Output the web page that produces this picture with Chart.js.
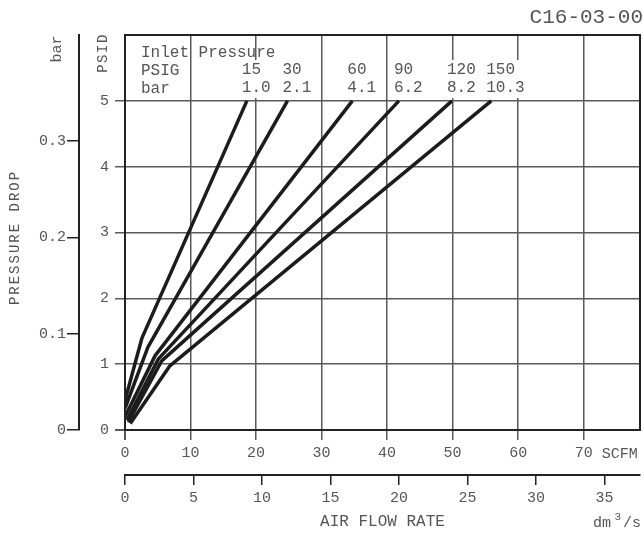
<!DOCTYPE html>
<html>
<head>
<meta charset="utf-8">
<script src="https://cdn.jsdelivr.net/npm/chart.js@4/dist/chart.umd.min.js"></script>
<style>
  html, body { margin: 0; padding: 0; background: #fff; }
  canvas { display: block; }
</style>
</head>
<body>
<canvas id="c" width="644" height="533"></canvas>
<script>
// Pressure drop vs. air flow rate, one curve per inlet pressure (C16-03-00).

const inletPsig = ['15', '30', '60', '90', '120', '150'];
const inletBar = ['1.0', '2.1', '4.1', '6.2', '8.2', '10.3'];

// points: start, knee, end  (SCFM / PSID)
const flow15 = [0, 2.6, 18.6];    const drop15 = [0.45, 1.40, 5];
const flow30 = [0, 3.5, 24.8];    const drop30 = [0.33, 1.26, 5];
const flow60 = [0, 4.6, 34.7];    const drop60 = [0.20, 1.13, 5];
const flow90 = [0.3, 5.1, 41.8];  const drop90 = [0.15, 1.08, 5];
const flow120 = [0.5, 5.6, 49.9]; const drop120 = [0.12, 1.05, 5];
const flow150 = [0.8, 6.8, 55.9]; const drop150 = [0.10, 0.97, 5];

const scfmTicks = [0, 10, 20, 30, 40, 50, 60, 70];
const dm3Ticks = [0, 5, 10, 15, 20, 25, 30, 35];
const psidTicks = [0, 1, 2, 3, 4, 5];
const barTicks = [0, 0.1, 0.2, 0.3];

const scfmMax = 78.6, dm3Max = 37.6, psidMax = 6, barMax = 0.41;

const series = [
  { flow: flow15, drop: drop15 },
  { flow: flow30, drop: drop30 },
  { flow: flow60, drop: drop60 },
  { flow: flow90, drop: drop90 },
  { flow: flow120, drop: drop120 },
  { flow: flow150, drop: drop150 },
];

const MONO = "'Liberation Mono', 'Courier New', monospace";
const INK = '#555';
const GRID = '#5a5a5a';
const FRAME = '#222';
const LINE = '#1c1c1c';

const tickFont = { family: MONO, size: 15 };
const asTicks = arr => s => { s.ticks = arr.map(v => ({ value: v })); };
const zeroThick = c => (c.tick && c.tick.value === 0 ? 2 : 1.5);

// frame, legend block and the loose captions
const annotate = {
  id: 'annotate',
  afterDraw(chart) {
    const { ctx, chartArea: a, scales } = chart;
    ctx.save();
    ctx.strokeStyle = FRAME;
    ctx.lineWidth = 2;
    ctx.strokeRect(a.left, a.top, a.right - a.left, a.bottom - a.top);

    ctx.textBaseline = 'middle';
    ctx.textAlign = 'left';
    ctx.font = `16px ${MONO}`;
    ctx.fillStyle = INK;
    ctx.fillText('Inlet Pressure', a.left + 16, a.top + 18);
    ctx.fillText('PSIG', a.left + 16, a.top + 36);
    ctx.fillText('bar', a.left + 16, a.top + 54);

    series.forEach((s, i) => {
      const x = scales.x.getPixelForValue(s.flow[s.flow.length - 1]) - 5;
      const w = Math.max(ctx.measureText(inletPsig[i]).width, ctx.measureText(inletBar[i]).width);
      ctx.fillStyle = '#fff';
      ctx.fillRect(x - 2, a.top + 25, w + 4, 38);
      ctx.fillStyle = INK;
      ctx.fillText(inletPsig[i], x, a.top + 35);
      ctx.fillText(inletBar[i], x, a.top + 53);
    });

    ctx.font = `15px ${MONO}`;
    ctx.fillText('SCFM', scales.x.getPixelForValue(70) + 18, a.bottom + 24);

    // dm³/s unit at the end of the lower axis
    const yr = scales.x2.bottom - 10;
    ctx.textAlign = 'right';
    ctx.fillText('/s', a.right + 1, yr);
    ctx.font = `11px ${MONO}`;
    ctx.fillText('3', a.right - 19, yr - 6);
    ctx.font = `15px ${MONO}`;
    ctx.fillText('dm', a.right - 29, yr);

    ctx.font = `21px ${MONO}`;
    ctx.fillText('C16-03-00', 643, 17);

    const vtext = (txt, x, y, size, spacing) => {
      ctx.save();
      ctx.translate(x, y);
      ctx.rotate(-Math.PI / 2);
      ctx.font = `${size}px ${MONO}`;
      ctx.letterSpacing = spacing;
      ctx.textAlign = 'center';
      ctx.fillText(txt, 0, 0);
      ctx.restore();
    };
    vtext('PRESSURE DROP', 15, (a.top + a.bottom) / 2 + 5, 14, '2px');
    vtext('PSID', scales.y.left + 24, a.top + 18, 14, '1.5px');
    vtext('bar', scales.y2.right - 22, a.top + 14, 15, '0px');
    ctx.restore();
  },
};

new Chart(document.getElementById('c'), {
  type: 'line',
  data: {
    datasets: series.map((s, i) => ({
      label: inletPsig[i] + ' PSIG',
      data: s.flow.map((f, k) => ({ x: f, y: s.drop[k] })),
      borderColor: LINE,
      borderWidth: 3.5,
      borderJoinStyle: 'round',
      pointRadius: 0,
      tension: 0,
      xAxisID: 'x',
      yAxisID: 'y',
    })),
  },
  options: {
    responsive: false,
    animation: false,
    devicePixelRatio: 1,
    layout: { padding: { top: 35, right: 4, left: 0, bottom: 0 } },
    plugins: { legend: { display: false }, tooltip: { enabled: false } },
    scales: {
      x: {
        type: 'linear', position: 'bottom', weight: 0, bounds: 'data',
        min: 0, max: scfmMax,
        afterBuildTicks: asTicks(scfmTicks),
        afterFit: s => { s.height = 45; },
        grid: { color: GRID, lineWidth: zeroThick, tickLength: 10 },
        border: { display: true, color: FRAME, width: 2 },
        ticks: { color: INK, font: tickFont, padding: 4, maxRotation: 0, autoSkip: false },
      },
      x2: {
        type: 'linear', position: 'bottom', weight: 1, bounds: 'data',
        min: 0, max: dm3Max,
        afterBuildTicks: asTicks(dm3Ticks),
        afterFit: s => { s.height = 58; },
        grid: { drawOnChartArea: false, color: FRAME, lineWidth: 1.5, tickLength: 10 },
        border: { display: true, color: FRAME, width: 2 },
        ticks: { color: INK, font: tickFont, padding: 4, maxRotation: 0, autoSkip: false },
        title: { display: true, text: 'AIR FLOW RATE', color: INK,
                 font: { family: MONO, size: 16 }, padding: { top: 0, bottom: 2 } },
      },
      y: {
        type: 'linear', position: 'left', weight: 0, bounds: 'data',
        min: 0, max: psidMax,
        afterBuildTicks: asTicks(psidTicks),
        afterFit: s => { s.width = 46; },
        grid: { color: GRID, lineWidth: zeroThick, tickLength: 10 },
        border: { display: true, color: FRAME, width: 2 },
        ticks: { color: INK, font: tickFont, padding: 6, autoSkip: false },
      },
      y2: {
        type: 'linear', position: 'left', weight: 1, bounds: 'data',
        min: 0, max: barMax,
        afterBuildTicks: asTicks(barTicks),
        afterFit: s => { s.width = 79; },
        grid: { drawOnChartArea: false, color: FRAME, lineWidth: 1.5, tickLength: 12 },
        border: { display: true, color: FRAME, width: 2 },
        ticks: { color: INK, font: tickFont, padding: 1, autoSkip: false },
      },
    },
  },
  plugins: [annotate],
});
</script>
</body>
</html>
